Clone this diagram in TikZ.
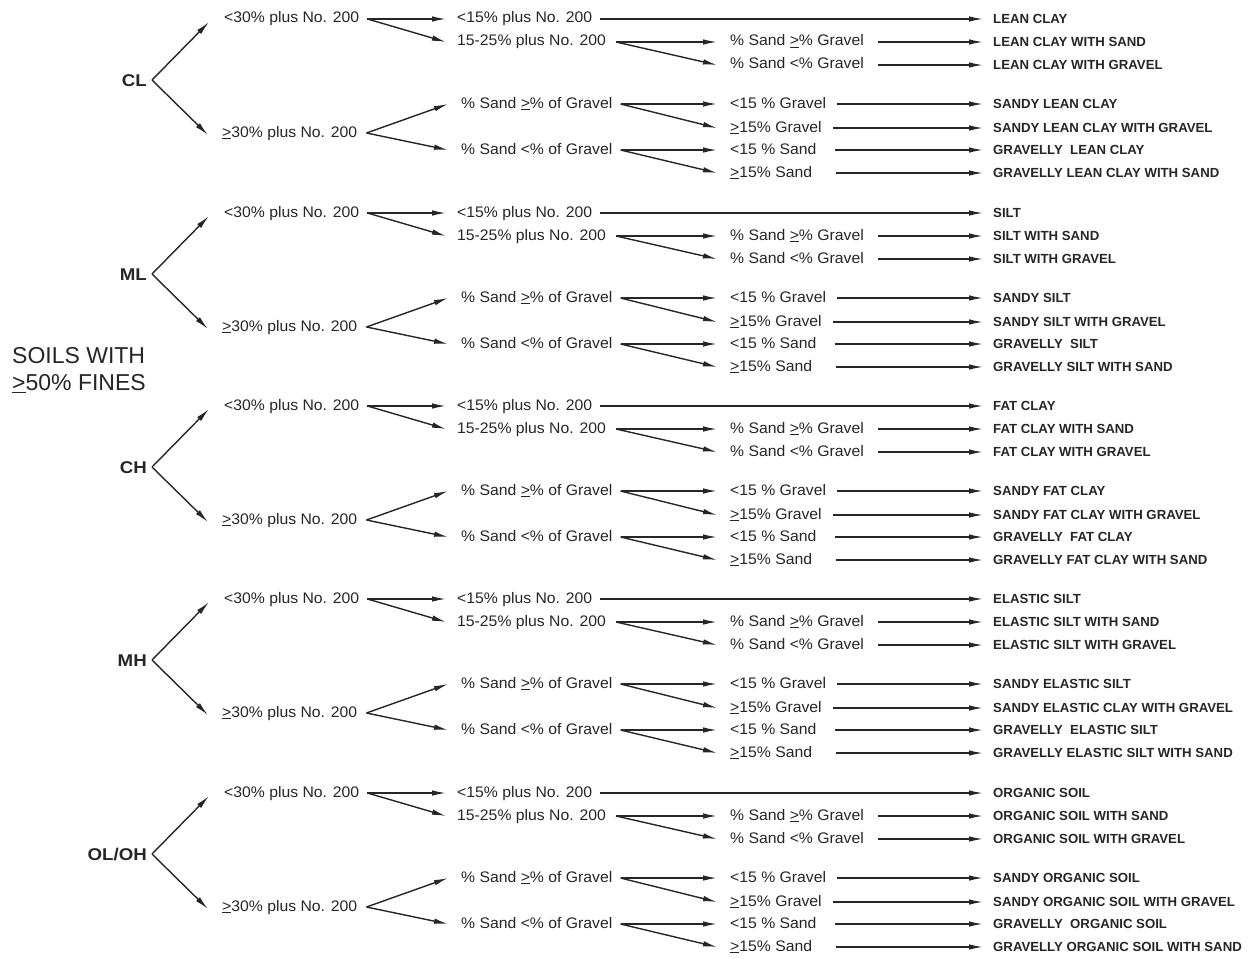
\documentclass[tikz,border=0pt]{standalone}
\usepackage{fontspec}
\setmainfont{Liberation Sans}
\newfontfamily\colf[FakeStretch=1.03]{Liberation Sans}
\newfontfamily\rootf[FakeStretch=1.1]{Liberation Sans}
\newfontfamily\endf{Liberation Sans}
\newfontfamily\titf{Liberation Sans}
\usetikzlibrary{arrows.meta}
\definecolor{ink}{HTML}{262626}
\newcommand\ugt{\underline{>}}
\tikzset{
  lab/.style={anchor=west, inner sep=0pt, text=ink, font=\colf\fontsize{15.3}{17}\selectfont, text height=11pt, text depth=3pt},
  fin/.style={anchor=west, inner sep=0pt, text=ink, font=\endf\bfseries\fontsize{13.2}{15}\selectfont, text height=9.5pt, text depth=0pt},
  rootlab/.style={anchor=east, inner sep=0pt, text=ink, font=\rootf\bfseries\fontsize{17}{19}\selectfont, text height=12.2pt, text depth=0pt},
  arr/.style={draw=ink, line width=1.4pt, -{Latex[length=14pt,width=5.5pt]}},
}
% #1 prefix, #2 root y, #3 root label
\newcommand\soilgroup[3]{%
  \node[rootlab] (#1root) at (147,#2) {#3};
  \node[lab] (#1a) at (224,#2-61) {<30\% plus No. 200};
  \node[lab] (#1g) at (222,#2+53) {\ugt30\% plus No. 200};
  \node[lab] (#1b) at (457,#2-61) {<15\% plus No. 200};
  \node[lab] (#1c) at (457,#2-38) {15-25\% plus No. 200};
  \node[lab] (#1d) at (730,#2-38) {\% Sand \ugt\% Gravel};
  \node[lab] (#1e) at (730,#2-15) {\% Sand <\% Gravel};
  \node[lab] (#1h) at (461,#2+24) {\% Sand \ugt\% of Gravel};
  \node[lab] (#1i) at (461,#2+70) {\% Sand <\% of Gravel};
  \node[lab] (#1j) at (730,#2+24) {<15 \% Gravel};
  \node[lab] (#1k) at (730,#2+48) {\ugt15\% Gravel};
  \node[lab] (#1l) at (730,#2+70) {<15 \% Sand};
  \node[lab] (#1m) at (730,#2+93) {\ugt15\% Sand};
  \draw[arr] ([xshift=5pt]#1root.east) -- ([shift={(-15,3)}]#1a.west);
  \draw[arr] ([xshift=5pt]#1root.east) -- ([shift={(-14,2)}]#1g.west);
  \draw[arr] ([xshift=8pt]#1a.east) -- ([xshift=-11pt]#1b.west);
  \draw[arr] ([xshift=8pt]#1a.east) -- ([xshift=-11pt]#1c.west);
  \draw[arr] ([xshift=10pt]#1c.east) -- ([xshift=-13pt]#1d.west);
  \draw[arr] ([xshift=10pt]#1c.east) -- ([xshift=-13pt]#1e.west);
  \draw[arr] ([xshift=9pt]#1g.east) -- ([xshift=-13pt]#1h.west);
  \draw[arr] ([xshift=9pt]#1g.east) -- ([xshift=-13pt]#1i.west);
  \draw[arr] ([xshift=8pt]#1h.east) -- ([xshift=-13pt]#1j.west);
  \draw[arr] ([xshift=8pt]#1h.east) -- ([xshift=-13pt]#1k.west);
  \draw[arr] ([xshift=8pt]#1i.east) -- ([xshift=-13pt]#1l.west);
  \draw[arr] ([xshift=8pt]#1i.east) -- ([xshift=-13pt]#1m.west);
}
% #1 prefix, #2 root y, #3..#9 final names
\newcommand\soilfinals[9]{%
  \node[fin] (#1f1) at (993,#2-61) {#3};
  \node[fin] (#1f2) at (993,#2-38) {#4};
  \node[fin] (#1f3) at (993,#2-15) {#5};
  \node[fin] (#1f4) at (993,#2+24) {#6};
  \node[fin] (#1f5) at (993,#2+48) {#7};
  \node[fin] (#1f6) at (993,#2+70) {#8};
  \node[fin] (#1f7) at (993,#2+93) {#9};
  \draw[arr] ([xshift=8pt]#1b.east) -- ([xshift=-10pt]#1f1.west);
  \draw[arr] ([xshift=14pt]#1d.east) -- ([xshift=-10pt]#1f2.west);
  \draw[arr] ([xshift=14pt]#1e.east) -- ([xshift=-10pt]#1f3.west);
  \draw[arr] ([xshift=11pt]#1j.east) -- ([xshift=-10pt]#1f4.west);
  \draw[arr] ([xshift=11pt]#1k.east) -- ([xshift=-10pt]#1f5.west);
  \draw[arr] ([xshift=18pt]#1l.east) -- ([xshift=-10pt]#1f6.west);
  \draw[arr] ([xshift=24pt]#1m.east) -- ([xshift=-10pt]#1f7.west);
}
\begin{document}
\begin{tikzpicture}[x=1pt,y=-1pt]
\useasboundingbox[fill=white] (0,0) rectangle (1260,958);
\node[anchor=west, inner sep=0pt, align=left, text=ink, font=\titf\fontsize{23}{27}\selectfont] (title) at (12,370) {SOILS WITH\\\ugt50\% FINES};

\soilgroup{cl}{80}{CL}
\soilfinals{cl}{80}{LEAN CLAY}{LEAN CLAY WITH SAND}{LEAN CLAY WITH GRAVEL}{SANDY LEAN CLAY}{SANDY LEAN CLAY WITH GRAVEL}{GRAVELLY \ LEAN CLAY}{GRAVELLY LEAN CLAY WITH SAND}

\soilgroup{ml}{274}{ML}
\soilfinals{ml}{274}{SILT}{SILT WITH SAND}{SILT WITH GRAVEL}{SANDY SILT}{SANDY SILT WITH GRAVEL}{GRAVELLY \ SILT}{GRAVELLY SILT WITH SAND}

\soilgroup{ch}{467}{CH}
\soilfinals{ch}{467}{FAT CLAY}{FAT CLAY WITH SAND}{FAT CLAY WITH GRAVEL}{SANDY FAT CLAY}{SANDY FAT CLAY WITH GRAVEL}{GRAVELLY \ FAT CLAY}{GRAVELLY FAT CLAY WITH SAND}

\soilgroup{mh}{660}{MH}
\soilfinals{mh}{660}{ELASTIC SILT}{ELASTIC SILT WITH SAND}{ELASTIC SILT WITH GRAVEL}{SANDY ELASTIC SILT}{SANDY ELASTIC CLAY WITH GRAVEL}{GRAVELLY \ ELASTIC SILT}{GRAVELLY ELASTIC SILT WITH SAND}

\soilgroup{ol}{854}{OL/OH}
\soilfinals{ol}{854}{ORGANIC SOIL}{ORGANIC SOIL WITH SAND}{ORGANIC SOIL WITH GRAVEL}{SANDY ORGANIC SOIL}{SANDY ORGANIC SOIL WITH GRAVEL}{GRAVELLY \ ORGANIC SOIL}{GRAVELLY ORGANIC SOIL WITH SAND}
\end{tikzpicture}
\end{document}
